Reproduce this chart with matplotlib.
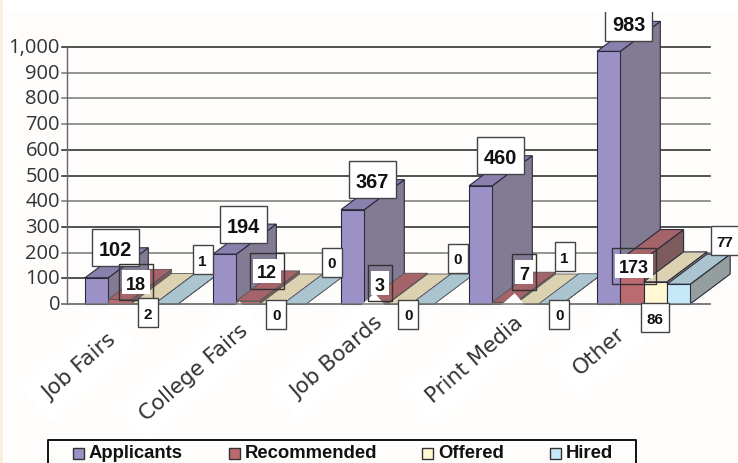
import matplotlib
matplotlib.use("Agg")
import matplotlib.pyplot as plt
from matplotlib.patches import Polygon, Rectangle

categories = ["Job Fairs", "College Fairs", "Job Boards", "Print Media", "Other"]
series_names = ["Applicants", "Recommended", "Offered", "Hired"]
applicants = [102, 194, 367, 460, 983]
recommended = [18, 12, 3, 7, 173]
offered = [2, 0, 0, 0, 86]
hired = [1, 0, 0, 1, 77]
y_ticks = [0, 100, 200, 300, 400, 500, 600, 700, 800, 900, 1000]
y_tick_labels = ["0", "100", "200", "300", "400", "500", "600", "700", "800", "900", "1,000"]

# colours: front, top, side
cols = [("#9b91c6", "#8a80ae", "#837a94"),
        ("#bb6b70", "#a5646a", "#7d5a5c"),
        ("#fff8d2", "#dcd2b2", "#a89e88"),
        ("#c6e8f8", "#abc5d0", "#959e9f")]
grid_cols = ["#777777", "#222222", "#777777", "#222222", "#777777", "#222222",
             "#222222", "#777777", "#777777", "#777777", "#222222"]
bg = "#fefdfb"

# label box centres from the front top of each bar, pixels (x right, y up)
off_apps = [(19, 30), (19, 30), (20, 30), (20, 30), (20, 29)]
off_rec = [(16, 17), (19, 30), (4, 20), (20, 30), (2, -6)]
off_off = [(5, -9), (5, -10), (9, -10), (32, -10), (0, -36)]
off_hir = [(36, 44), (37, 42), (35, 46), (14, 47), (46, 44)]
all_offs = [off_apps, off_rec, off_off, off_hir]
fonts = [14.4, 13, 11, 11]

# right end of each category label, pixels in the picture
label_ends = [(113, 338), (245, 328), (380, 320), (520, 320), (622, 331)]

W, H = 738, 464
fig = plt.figure(figsize=(W / 100, H / 100), dpi=100, facecolor=bg)
ax = fig.add_axes([0, 0, 1, 1])
ax.axis("off")

# axes mapped so that x units are bar widths and y units are chart values
px_y = 257 / 1000.0
slot = 23.3
x0 = 85
ax.set_xlim(-x0 / slot, (W - x0) / slot)
ax.set_ylim(-(H - 305) / px_y, 305 / px_y)
dx = 40 / slot
dy = 30 / px_y
period = 128 / slot


def px(x):
    return (x - x0) / slot


def py(y):
    return (305 - y) / px_y


ax.add_patch(Rectangle((px(0), py(H)), 3 / slot, H / px_y, fc="#faf0e2", ec="none", zorder=31))
ax.add_patch(Rectangle((px(0), py(13)), W / slot, 13 / px_y, fc="#ffffff", ec="none", zorder=30))

for t, lab, gc in zip(y_ticks, y_tick_labels, grid_cols):
    ax.plot([px(62), px(710)], [t, t], color=gc, lw=1.1, zorder=1)
    ax.text(px(60), t, lab, ha="right", va="center", family="Open Sans", fontsize=14.5, color="#333333", zorder=7)
ax.plot([px(67), px(67)], [0, 1000], color="#666666", lw=1, zorder=1)

all_series = [applicants, recommended, offered, hired]
for i in range(len(categories)):
    for s, vals in enumerate(all_series):
        v = vals[i]
        x = i * period + s
        f, t, sd = cols[s]
        z = 2 + s * 0.1 + i
        edge = "#2a2a3a" if v >= 20 else "#555555"
        lw = 0.8 if v >= 20 else 0.6
        ax.add_patch(Polygon([(x + 1, 0), (x + 1 + dx, dy), (x + 1 + dx, v + dy), (x + 1, v)], fc=sd, ec=edge, lw=lw, zorder=z))
        ax.add_patch(Polygon([(x, v), (x + dx, v + dy), (x + 1 + dx, v + dy), (x + 1, v)], fc=t, ec=edge, lw=lw, zorder=z))
        ax.bar(x + 0.5, v, width=1, color=f, edgecolor=edge, lw=lw, zorder=z)

ax.plot([px(62), px(710)], [0, 0], color="#777777", lw=1.1, zorder=10)

# value labels
for i in range(len(categories)):
    for s, vals in enumerate(all_series):
        v = vals[i]
        ox, oy = all_offs[s][i]
        cx = i * period + s + 0.5 + ox / slot
        cy = v + oy / px_y
        n = len(str(v))
        if s == 0:
            bw, bh = 47, 37
        elif s == 1:
            bw, bh = {1: 24, 2: 34, 3: 44}[n], 36
        else:
            bw, bh = {1: 20, 2: 28}[n], 29
        if s == 1:
            # outline lets the bars show through, only the text sits on white
            ax.add_patch(Rectangle((cx - (bw - 6) / 2 / slot, cy - 12 / px_y), (bw - 6) / slot, 24 / px_y,
                                   fc="white", ec="none", zorder=20))
            ax.add_patch(Rectangle((cx - bw / 2 / slot, cy - bh / 2 / px_y), bw / slot, bh / px_y,
                                   fc="none", ec="#333333", lw=1, zorder=20))
        else:
            ax.add_patch(Rectangle((cx - bw / 2 / slot, cy - bh / 2 / px_y), bw / slot, bh / px_y,
                                   fc="white", ec="#444444", lw=1, zorder=20))
        ax.text(cx, cy, str(v), ha="center", va="center_baseline", family="Liberation Sans", weight="bold",
                fontsize=fonts[s], color="#111111", zorder=21)

# category labels, rotated
for c, (ex, ey) in zip(categories, label_ends):
    ax.text(px(ex), py(ey), c, rotation=41, rotation_mode="anchor", ha="right", va="center",
            family="DejaVu Sans", fontsize=15.5, color="#333333", zorder=7,
            bbox=dict(boxstyle="square,pad=0.6", fc="white", ec="none"))

# legend
leg_x = [73, 229, 422, 550]
for s, name in enumerate(series_names):
    ax.add_patch(Rectangle((px(leg_x[s]), py(459.5)), 11 / slot, 11 / px_y, fc=cols[s][0], ec="#333333", lw=1, zorder=8))
    ax.text(px(leg_x[s] + 16), py(454), name, ha="left", va="center", family="Liberation Sans",
            weight="bold", fontsize=13.3, color="#111111", zorder=8)
ax.plot([px(48), px(48), px(636), px(636)], [py(H), py(441), py(441), py(H)], color="#111111", lw=1.4, zorder=8)

fig.savefig("out.png", dpi=100)
